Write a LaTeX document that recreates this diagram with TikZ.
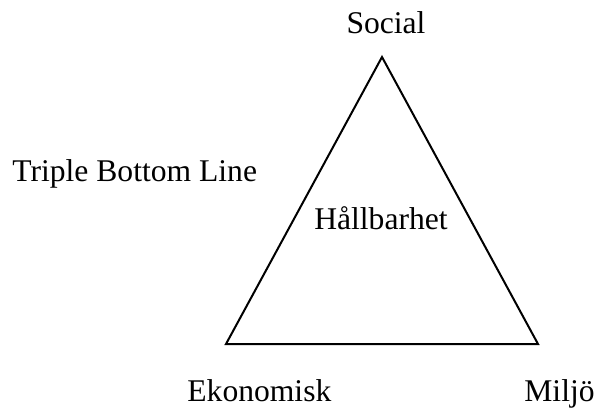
\documentclass[tikz,border=0pt]{standalone}
\usepackage{fontspec}
\setmainfont{Liberation Serif}

\begin{document}
\begin{tikzpicture}[x=0.5pt,y=-0.5pt]
			\tikzset{lbl/.style={inner sep=0pt, font=\fontsize{15.8}{19}\selectfont}}
			\useasboundingbox (0,0) rectangle (596,409);

			\coordinate (S) at (382,57);
			\coordinate (E) at (226,344);
			\coordinate (M) at (538,344);
			\draw[line width=1pt, line join=miter] (S) -- (M) -- (E) -- cycle;

			\draw (386,33) node [lbl, anchor=base] (social) {Social};
			\draw (12,181) node [lbl, anchor=base west] (tbl) {Triple Bottom Line};
			\draw (381,229) node [lbl, anchor=base] (hall) {Hållbarhet};
			\draw (187,401) node [lbl, anchor=base west] (eko) {Ekonomisk};
			\draw (524,401) node [lbl, anchor=base west] (miljo) {Miljö};
		\end{tikzpicture}
\end{document}
